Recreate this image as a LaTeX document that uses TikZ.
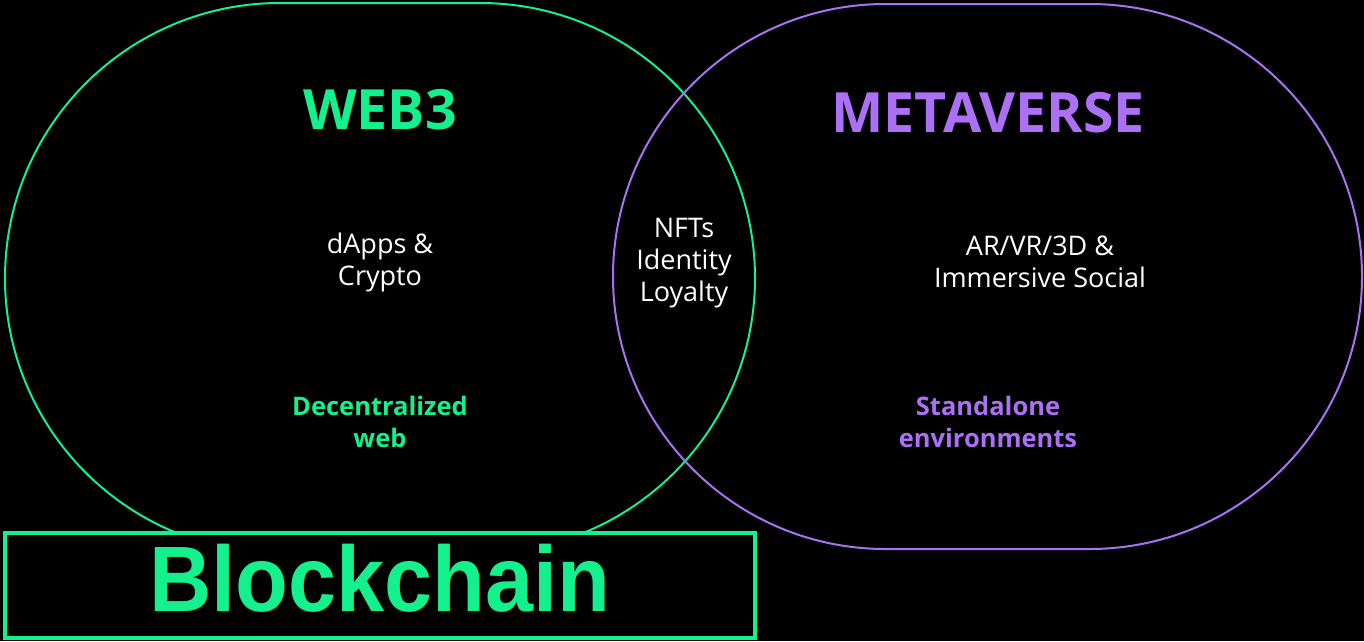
\documentclass[tikz,border=0pt]{standalone}
\usepackage{fontspec}
\setmainfont{Open Sans}
\newfontfamily\blockfont{Liberation Sans}
\definecolor{webgreen}{RGB}{20,240,140}
\definecolor{metapurple}{RGB}{172,112,245}
\tikzset{
  body/.style={text=white,font=\fontsize{27}{32}\selectfont,align=center},
  title/.style={font=\fontsize{55.5}{60}\selectfont\bfseries},
  tag/.style={font=\fontsize{25.5}{32}\selectfont\bfseries,align=center},
}
\begin{document}
\begin{tikzpicture}[x=1pt,y=1pt]
  % canvas (y runs downward through negative values)
  \fill[black] (0,0) rectangle (1364,-641);
  \useasboundingbox (0,0) rectangle (1364,-641);

  % Web3 region (stadium)
  \draw[webgreen,line width=2pt] (280,-3) -- (480,-3) arc[start angle=90,end angle=-90,radius=275pt]
        -- (280,-553) arc[start angle=270,end angle=90,radius=275pt] -- cycle;
  % Metaverse region (stadium)
  \draw[metapurple,line width=2pt] (885.5,-4) -- (1089.5,-4) arc[start angle=90,end angle=-90,radius=272.5pt]
        -- (885.5,-549) arc[start angle=270,end angle=90,radius=272.5pt] -- cycle;

  % headings
  \node[title,text=webgreen] (web3) at (380,-110) {WEB3};
  \node[title,text=metapurple] (meta) at (988,-113) {METAVERSE};

  % contents
  \node[body] (dapps) at (380,-262) {dApps \&\\Crypto};
  \node[body] (shared) at (684,-263) {NFTs\\Identity\\Loyalty};
  \node[body] (arvr) at (1040,-262) {AR/VR/3D \&\\Immersive Social};

  \node[tag,text=webgreen] (decent) at (380,-422) {Decentralized\\web};
  \node[tag,text=metapurple] (stand) at (988,-422) {Standalone\\environments};

  % blockchain base
  \node[draw=webgreen,fill=black,line width=4pt,minimum width=750pt,minimum height=105pt,
        inner sep=0pt] (chain) at (380,-585.5) {};
  \node[text=webgreen,font=\blockfont\bfseries\fontsize{93}{100}\selectfont] (chaintext) at (380,-578)
        {\scalebox{0.93}[1]{Blockchain}};
\end{tikzpicture}
\end{document}
